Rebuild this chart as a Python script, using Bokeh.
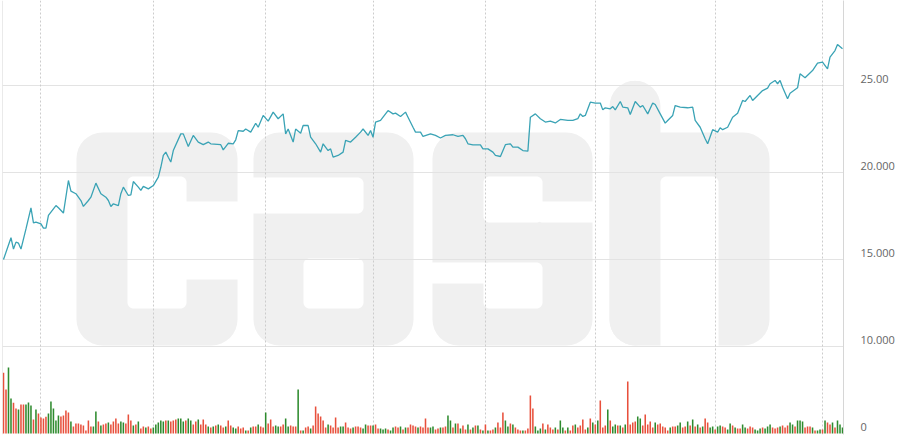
import numpy as np
from bokeh.plotting import figure
from bokeh.models import Range1d, FixedTicker, Grid, Span, ColumnDataSource, LinearAxis
from bokeh.embed import file_html
from bokeh.resources import INLINE

# ---------------- data ----------------
price_day = [0, 3, 4, 5, 6, 7, 9, 11, 12, 13, 15, 16, 17, 18, 21, 22, 24, 26, 27, 29,
             31, 32, 34, 35, 37, 39, 41, 42, 43, 44, 46, 47, 48, 50, 51, 52, 54, 55, 56, 58,
             60, 62, 63, 64, 65, 66, 67, 68, 71, 72, 74, 76, 78, 80, 82, 83, 87, 88, 90, 92,
             93, 94, 96, 97, 99, 101, 102, 104, 106, 108, 110, 112, 113, 114, 116, 117, 119, 120, 122, 123,
             125, 127, 128, 130, 131, 132, 134, 136, 137, 139, 141, 143, 144, 146, 147, 148, 149, 151, 154, 156,
             157, 159, 161, 162, 164, 165, 167, 168, 171, 173, 175, 177, 180, 182, 184, 185, 186, 188, 191, 192,
             194, 196, 197, 199, 201, 203, 204, 206, 208, 210, 211, 213, 215, 217, 219, 221, 223, 226, 228, 230,
             231, 232, 233, 235, 237, 239, 240, 241, 243, 244, 245, 247, 248, 250, 251, 253, 255, 256, 258, 260,
             261, 263, 265, 266, 268, 269, 271, 274, 276, 277, 279, 281, 282, 284, 286, 287, 288, 290, 292, 294,
             296, 297, 299, 300, 302, 304, 306, 307, 309, 310, 311, 312, 314, 315, 318, 319, 321, 324, 326, 328,
             330, 331, 333, 334, 336]
price_val = [15.0, 16.25, 15.6, 16.0, 15.94, 15.6, 16.76, 17.97, 17.1, 17.15, 17.05, 16.8, 16.8, 17.53, 18.1, 17.97, 17.67, 19.54, 18.93, 18.78,
             18.39, 18.05, 18.39, 18.58, 19.39, 18.78, 18.58, 18.39, 18.05, 18.2, 18.1, 18.78, 19.16, 18.68, 18.72, 19.48, 19.16, 18.97, 19.2, 19.06,
             19.25, 19.73, 20.3, 20.98, 21.17, 20.88, 20.6, 21.26, 22.22, 22.22, 21.5, 22.13, 21.75, 21.6, 21.75, 21.65, 21.6, 21.3, 21.68, 21.65,
             21.88, 22.41, 22.37, 22.5, 22.32, 22.83, 22.6, 23.28, 22.95, 23.47, 23.09, 23.37, 22.22, 22.5, 21.75, 22.5, 22.26, 22.7, 22.7, 22.03,
             21.65, 21.17, 21.65, 21.26, 21.36, 20.88, 20.98, 21.17, 21.84, 21.75, 22.03, 22.32, 22.5, 22.13, 22.41, 22.03, 22.9, 22.99, 23.56, 23.37,
             23.41, 23.22, 23.47, 23.18, 22.6, 22.32, 22.32, 22.07, 22.22, 22.13, 21.98, 22.13, 22.17, 22.07, 22.13, 21.94, 21.65, 21.59, 21.59, 21.36,
             21.36, 21.17, 20.98, 20.92, 21.6, 21.65, 21.46, 21.46, 21.26, 21.23, 23.18, 23.37, 23.09, 22.9, 22.95, 22.85, 23.05, 22.99, 22.99, 23.09,
             23.37, 23.22, 23.28, 24.04, 23.99, 23.99, 23.6, 23.72, 23.66, 23.79, 23.6, 24.08, 23.76, 23.72, 23.33, 24.08, 23.76, 23.85, 23.37, 23.99,
             23.91, 23.37, 22.84, 22.99, 23.28, 23.85, 23.76, 23.72, 23.76, 22.99, 22.6, 21.94, 21.65, 22.46, 22.32, 22.57, 22.46, 22.6, 23.18, 23.41,
             24.14, 24.08, 24.43, 24.14, 24.43, 24.71, 24.85, 25.1, 25.29, 25.1, 25.29, 24.9, 24.24, 24.56, 24.87, 25.67, 25.45, 25.86, 26.28, 26.34,
             25.96, 26.63, 27.01, 27.36, 27.11]

# daily volume (thousands) and direction of the day (u = up / green, d = down / red)
volume = [607, 440, 660, 350, 307, 250, 240, 290, 290, 290,
          310, 280, 140, 240, 200, 160, 150, 167, 200, 320,
          250, 130, 180, 170, 180, 230, 210, 120, 70, 100,
          100, 90, 80, 30, 130, 70, 70, 220, 120, 80,
          90, 100, 110, 90, 120, 150, 100, 120, 110, 100,
          190, 130, 80, 90, 120, 50, 70, 60, 70, 50,
          60, 90, 110, 130, 120, 130, 130, 120, 130, 140,
          150, 150, 120, 130, 150, 130, 90, 120, 140, 90,
          140, 90, 70, 60, 70, 80, 90, 80, 60, 70,
          130, 80, 60, 50, 70, 50, 60, 30, 30, 60,
          70, 70, 90, 70, 60, 210, 100, 140, 70, 80,
          70, 70, 90, 150, 70, 80, 70, 70, 440,
          30, 30, 60, 70, 50, 80, 270, 200, 170, 130,
          60, 90, 80, 60, 160, 60, 70, 70, 110, 60,
          50, 60, 70, 70, 60, 50, 90, 80, 80, 80,
          90, 50, 50, 40, 50, 40, 30, 60, 70, 60,
          70, 40, 60, 60, 90, 80, 70, 60, 70, 60,
          150, 60, 60, 70, 40, 50, 60, 60, 70, 180,
          130, 60, 100, 100, 50, 80, 40, 90, 40, 60,
          80, 80, 40, 30, 90, 30, 30, 40, 60, 110,
          60, 210, 130, 70, 100, 90, 60, 40, 30, 30,
          30, 50, 380, 250, 70, 30, 50, 100, 40, 90,
          60, 40, 60, 40, 130, 60, 30, 60, 30, 80,
          90, 60, 80, 140, 40, 60, 150, 110, 90, 130, 330,
          60, 80, 240, 130, 70, 90, 80, 80, 60, 90,
          520, 90, 110, 120, 170, 150, 80, 190, 90, 120,
          60, 110, 90, 100, 70, 60, 30, 60, 70, 70,
          80, 110, 60, 70, 120, 80, 140, 70, 90, 60,
          70, 150, 110, 60, 70, 40, 70, 80, 70, 60,
          40, 100, 80, 60, 50, 50, 90, 60, 50, 70,
          60, 40, 30, 50, 60, 50, 70, 90, 60, 50,
          60, 70, 80, 60, 80, 110, 90, 70, 130, 130,
          120, 60, 70, 70, 60, 30, 30, 40, 40, 130,
          110, 90, 110, 60, 130, 90, 60]
vol_dir = ("d d u u d d u d d u  u u d u d d d d u u  u u u d d d d u d d  d d d d d d u u d u "
           "d d u d d d d u u d  d d u d u d d u d d  u u u u u d u d d d  u u u d u u d d u d "
           "d d u d u d u d d u  d d u u d d d u d u  d d u d d u d d d u  u d d u u d d d u "
           "d u d d u d d d d d  d u d d d d u u d d  d u d d d u u d d u  d d u u u d u u d d "
           "u d u d d d d u d d  d d u u d d u d d u  u d u d u d d u d u  d u d u d u d d u d "
           "d d u u d u d d d u  d d d d u u u d u d  d d u d u u d u d d  u d d d d u d u d u d "
           "d d u d u u d u d u  d d d d u u d d d d  d u d d d d d u d d  u u d d u d u d u d "
           "u d d u u d u u d d  u u d u d d u u d d  d u u u d u u u d d  d u d d d u u d u u "
           "u d d d u d u u d u  d d u d u u u").split()

grid_days = [15, 60, 105, 148, 193, 237, 285, 328]
price_ticks = [10, 15, 20, 25]
price_tick_labels = ["10.000", "15.000", "20.000", "25.00"]
vol_ticks = [0]
vol_tick_labels = ["0"]

# ---------------- figure ----------------
N = len(volume)
px_per_price = 17.4
p_start, p_end = 5 - 1 / px_per_price, 25 + 85 / px_per_price
v_start, v_end = -10, 4330
p = figure(width=900, height=436, output_backend="svg", toolbar_location=None,
           x_range=Range1d(-0.4, N - 1 + 0.4), y_range=Range1d(p_start, p_end),
           x_axis_location=None, y_axis_location=None,
           min_border_left=2, min_border_right=57, min_border_top=0, min_border_bottom=2,
           background_fill_color="white", border_fill_color="white",
           outline_line_color=None)
p.grid.visible = False
p.extra_y_ranges = {"vol": Range1d(v_start, v_end), "wmy": Range1d(434, 0)}
p.extra_x_ranges = {"wm": Range1d(2, 843)}

# ---------------- watermark "cash" (logo, drawn in pixel space) ----------------
def rrect(x0, y0, x1, y1, r, n=9):
    xs, ys = [], []
    for cx, cy, a0 in [(x1 - r, y0 + r, -90), (x1 - r, y1 - r, 0), (x0 + r, y1 - r, 90), (x0 + r, y0 + r, 180)]:
        for t in np.linspace(a0, a0 + 90, n):
            xs.append(cx + r * np.cos(np.radians(t)))
            ys.append(cy + r * np.sin(np.radians(t)))
    return xs, ys

wm_body = [(76, 132, 237, 345), (253, 132, 413, 345), (432, 132, 592, 345),
           (609, 80, 660, 345), (609, 132, 769, 345)]
wm_cuts = [
    (127, 176, 186, 308), (180, 201, 250, 279),                     # c
    (240, 177, 363, 213), (303, 258, 363, 308),                     # a
    (483, 176, 542, 222), (536, 201, 600, 222),                     # s upper
    (483, 262, 542, 308), (424, 262, 489, 283),                     # s lower
    (660, 176, 718, 360),                                            # h
]
bx, by = zip(*[rrect(*b, 26) for b in wm_body])
p.patches(list(bx), list(by), fill_color="#f0f0f0", line_color=None,
          x_range_name="wm", y_range_name="wmy", level="image")
cx_, cy_ = zip(*[rrect(*c, 6) for c in wm_cuts])
p.patches(list(cx_), list(cy_), fill_color="white", line_color=None,
          x_range_name="wm", y_range_name="wmy", level="image")

# ---------------- grids & frame lines ----------------
p.add_layout(Grid(dimension=1, ticker=FixedTicker(ticks=price_ticks),
                  grid_line_color="#e3e3e3", grid_line_width=1))
p.add_layout(Grid(dimension=0, ticker=FixedTicker(ticks=grid_days),
                  grid_line_color="#cccccc", grid_line_width=1, grid_line_dash="2 2"))
p.add_layout(Span(location=p.x_range.start, dimension="height", line_color="#d6d6d6", line_width=1))

# ---------------- volume bars ----------------
vsrc = ColumnDataSource(dict(
    day=list(range(N)), vol=volume,
    color=["#2e8b2e" if d == "u" else "#e8503c" for d in vol_dir]))
p.vbar(x="day", top="vol", bottom=0, width=0.62, source=vsrc,
       fill_color="color", line_color=None, y_range_name="vol")

# ---------------- price line ----------------
p.line(price_day, price_val, line_color="#3aa3b5", line_width=1.3)

# ---------------- right axis (price ticks + volume zero) ----------------
# labels sit just above their grid line: lift the (invisible) tick positions by 7 px
lab_lift = 7 / px_per_price
vol_in_price = [p_start + (v - v_start) * (p_end - p_start) / (v_end - v_start) for v in vol_ticks]
all_ticks = [round(t + lab_lift, 6) for t in vol_in_price + price_ticks]
overrides = {t: s for t, s in zip(all_ticks, vol_tick_labels + price_tick_labels)}
yax = LinearAxis(ticker=FixedTicker(ticks=all_ticks), major_label_overrides=overrides,
                 axis_line_color="#d6d6d6", major_tick_line_color=None, minor_tick_line_color=None,
                 major_tick_out=0, major_tick_in=0, major_label_standoff=17,
                 major_label_text_font="Open Sans", major_label_text_font_size="11px",
                 major_label_text_color="#666666")
p.add_layout(yax, "right")

open("out.html", "w").write(file_html(p, INLINE))
